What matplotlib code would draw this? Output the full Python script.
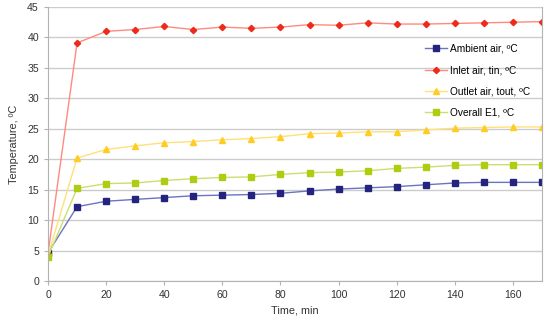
import numpy as np
import matplotlib.pyplot as plt

# Data
time_min = [0, 10, 20, 30, 40, 50, 60, 70, 80, 90, 100, 110, 120, 130, 140, 150, 160, 170]
ambient = [4.6, 12.2, 13.1, 13.4, 13.7, 14.0, 14.1, 14.2, 14.4, 14.8, 15.1, 15.3, 15.5, 15.8, 16.1, 16.2, 16.2, 16.2]
inlet = [4.5, 39.1, 41.0, 41.3, 41.8, 41.3, 41.7, 41.5, 41.7, 42.1, 42.0, 42.4, 42.2, 42.2, 42.3, 42.4, 42.5, 42.6]
outlet = [4.2, 20.2, 21.6, 22.2, 22.7, 22.9, 23.2, 23.4, 23.7, 24.2, 24.3, 24.5, 24.5, 24.8, 25.1, 25.2, 25.3, 25.3]
overall = [4.0, 15.2, 16.0, 16.1, 16.5, 16.8, 17.0, 17.1, 17.5, 17.8, 17.9, 18.1, 18.5, 18.7, 19.0, 19.1, 19.1, 19.1]

labels = ["Ambient air, ºC", "Inlet air, tin, ºC", "Outlet air, tout, ºC", "Overall E1, ºC"]

plt.rcParams['font.family'] = ['Liberation Sans', 'DejaVu Sans']

fig = plt.figure(figsize=(5.5, 3.21), dpi=100)
ax = fig.add_axes([48 / 550, 1 - 281 / 321, 494 / 550, 274 / 321])

ax.plot(time_min, ambient, color='#6a74c0', lw=1, marker='s', ms=4.3,
        mfc='#24247e', mec='#24247e', label=labels[0])
ax.plot(time_min, inlet, color='#ff8a80', lw=1, marker='D', ms=3.2,
        mfc='#ee2a1a', mec='#ee2a1a', label=labels[1])
ax.plot(time_min, outlet, color='#ffe07a', lw=1, marker='^', ms=4.5,
        mfc='#ffcc22', mec='#ffcc22', label=labels[2])
ax.plot(time_min, overall, color='#c8e070', lw=1, marker='s', ms=4.3,
        mfc='#b0cc10', mec='#b0cc10', label=labels[3])

ax.set_xlim(0, 170)
ax.set_ylim(0, 45)
ax.set_xticks(np.arange(0, 161, 20))
ax.set_yticks(np.arange(0, 46, 5))
ax.grid(axis='y', color='#cccccc', lw=1)
ax.set_axisbelow(True)
for s in ax.spines.values():
    s.set_color('#b3b3b3')
ax.spines['top'].set_visible(False)
ax.tick_params(colors='#b3b3b3', labelcolor='#333333', labelsize=7.6, length=3)

ax.set_xlabel("Time, min", fontsize=7.8, color='#333333', labelpad=4)
ax.set_ylabel("Temperature, ºC", fontsize=7.8, color='#333333', labelpad=6)

ax.legend(loc='upper left', bbox_to_anchor=(0.763, 0.866), frameon=False,
          fontsize=7.3, labelspacing=1.12, handlelength=2.2, handletextpad=0.3,
          borderpad=0, borderaxespad=0)

fig.savefig("out.png", dpi=100)
